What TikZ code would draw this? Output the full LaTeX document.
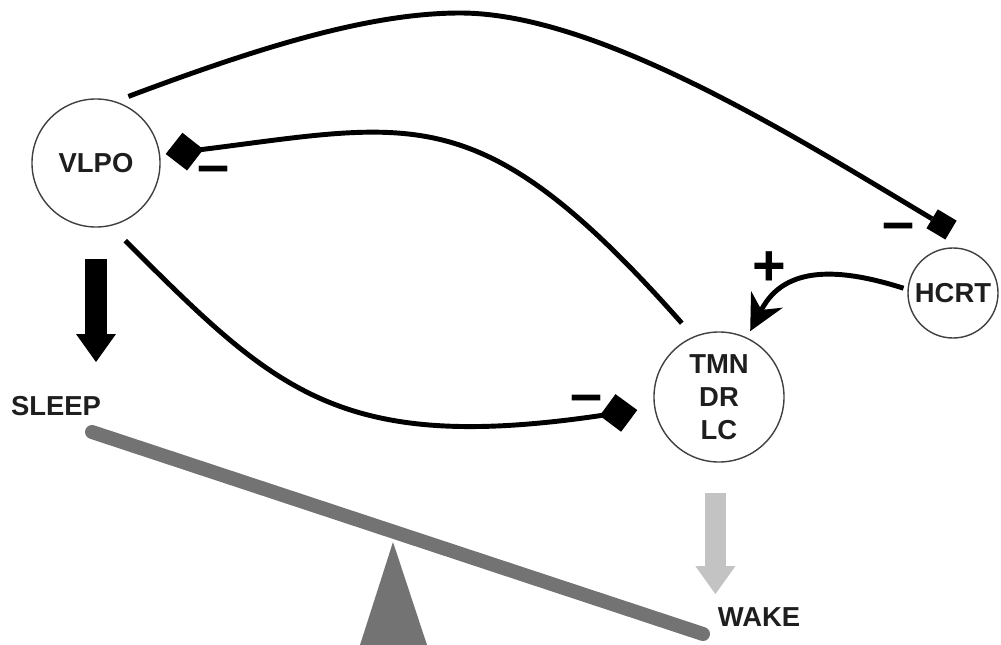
\documentclass[tikz,border=0pt]{standalone}
\usepackage{fontspec}
\setmainfont{Liberation Sans}
\usepackage{xcolor}
\usetikzlibrary{arrows.meta}
\definecolor{beamgray}{RGB}{115,115,115}
\definecolor{wakegray}{RGB}{195,195,195}
\definecolor{inkgray}{RGB}{30,30,30}

\begin{document}
\begin{tikzpicture}[x=0.025cm,y=-0.025cm,
  font=\fontsize{19.5}{23.4}\selectfont\bfseries,
  region/.style={draw=black!75,line width=1pt,circle,inner sep=0pt,text=inkgray,align=center},
  lbl/.style={inner sep=0pt,text=inkgray},
  sgn/.style={inner sep=0pt,font=\fontsize{41}{41}\selectfont\bfseries},
  link/.style={line width=3.5pt},
  inhib/.style={link,-{Kite[length=0.95cm,width=0.95cm,inset=0.47cm,line width=0pt]}},
  block/.style={link,-{Square[length=0.55cm,width=0.55cm,line width=0pt]}},
  excit/.style={link,-{Stealth[length=0.9cm,width=0.9cm,inset=0.3cm,line width=0pt]}},
  fat/.style={line width=0.525cm,-{Triangle[length=0.7cm,width=1cm,line width=0pt]}}]
\useasboundingbox (0,0) rectangle (1001,645);
\node[region,minimum size=3.2cm](vlpo) at (96,163){VLPO};
\node[region,minimum size=3.25cm](tmn) at (719,397){TMN\\DR\\LC};
\node[region,minimum size=2.25cm](hcrt) at (953,293){HCRT};
\node[lbl](sleep) at (56,406){SLEEP};
\node[lbl](wake) at (759,617){WAKE};
\draw[beamgray,line width=0.35cm,line cap=round] (92,432) -- (703,634);
\fill[beamgray] (393,542) -- (427,645) -- (360,645) -- cycle;
\draw[block] ([shift={(0.1cm,0.21cm)}]vlpo.64) .. controls (260,47) and (370,13) .. (460,13)
  .. controls (600,13) and (800,140) .. ([shift={(-0.05cm,0.43cm)}]hcrt.north);
\draw[inhib] ([shift={(-0.21cm,0.37cm)}]tmn.116) .. controls (480,95) and (415,123) .. ([xshift=0.14cm]vlpo.8);
\draw[inhib] ([shift={(0.15cm,-0.43cm)}]vlpo.-69) .. controls (275,390) and (338,455) .. ([shift={(-0.42cm,-0.07cm)}]tmn.189);
\draw[excit] ([xshift=-0.1cm]hcrt.174) .. controls (840,268) and (785,265) .. ([shift={(0.06cm,0.17cm)}]tmn.64);
\coordinate (s0) at ([yshift=-0.78cm]vlpo.south);
\coordinate (w0) at ([shift={(-0.09cm,-0.75cm)}]tmn.south);
\draw[fat] (s0) -- ([yshift=0.85cm]s0 |- sleep.north);
\draw[fat,wakegray] (w0) -- ([yshift=0.33cm]w0 |- wake.north);
\node[sgn](m1) at (214,175){--};
\node[sgn](m2) at (587,404){--};
\node[sgn](m3) at (899,232){--};
\node[sgn](p1) at (769,269){+};
\end{tikzpicture}
\end{document}
